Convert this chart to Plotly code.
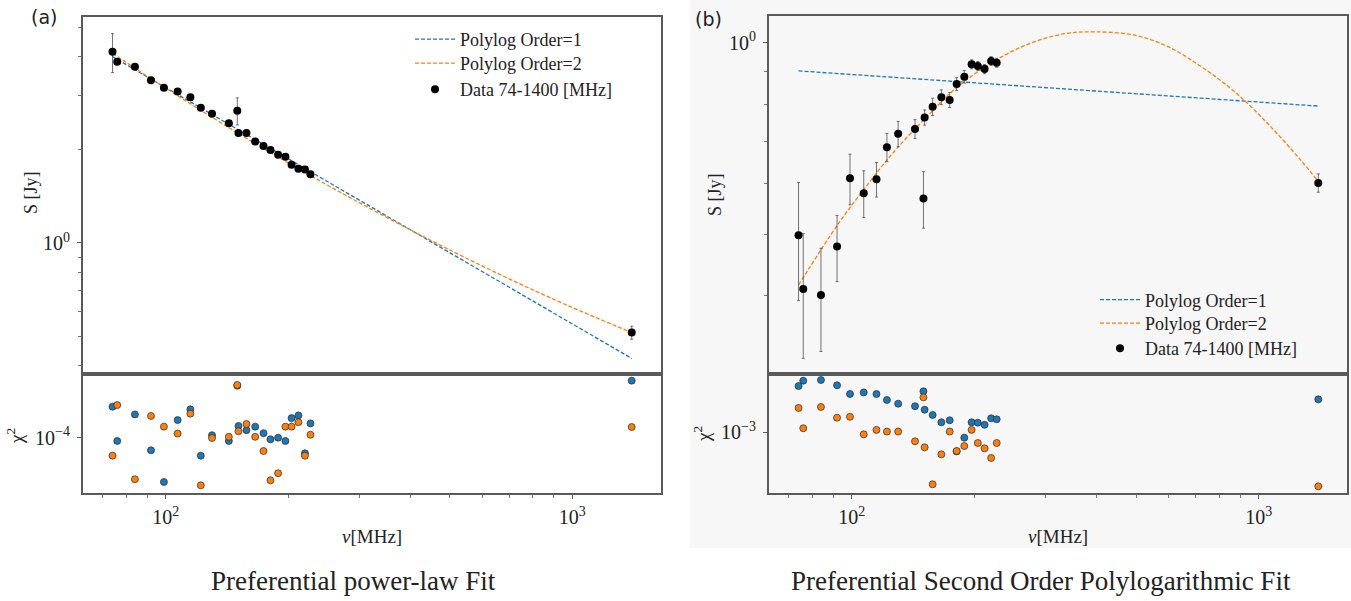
import plotly.graph_objects as go

# Observing frequencies [MHz]
freq = [74, 76, 84, 92, 99, 107, 115, 122, 130, 143, 150, 151, 158, 166, 174,
        181, 189, 197, 204, 212, 220, 227, 1400]

# Panel (a): power-law source
flux_a = [4.16, 3.86, 3.72, 3.36, 3.18, 3.09, 2.96, 2.74, 2.62, 2.44, 2.68, 2.27,
          2.27, 2.13, 2.06, 2.00, 1.93, 1.90, 1.79, 1.74, 1.73, 1.67, 0.513]
err_a = [0.60, 0.05, 0.05, 0.05, 0.05, 0.04, 0.04, 0.04, 0.04, 0.04, 0.27, 0.03,
         0.03, 0.03, 0.03, 0.03, 0.03, 0.03, 0.03, 0.03, 0.03, 0.03, 0.025]
chi1_a = [2.04e-4, 9.27e-5, 1.71e-4, 7.48e-5, 3.61e-5, 1.50e-4, 1.92e-4, 6.61e-5,
          1.06e-4, 9.27e-5, 3.31e-4, 1.31e-4, 1.19e-4, 1.29e-4, 1.11e-4, 9.64e-5,
          1.00e-4, 9.27e-5, 1.57e-4, 1.67e-4, 6.98e-5, 1.39e-4, 3.72e-4]
chi2_a = [6.61e-5, 2.12e-4, 3.84e-5, 1.65e-4, 1.29e-4, 1.10e-4, 1.74e-4, 3.34e-5,
          9.93e-5, 1.02e-4, 3.37e-4, 1.16e-4, 1.37e-4, 1.02e-4, 7.36e-5, 3.75e-5,
          4.41e-5, 1.29e-4, 1.29e-4, 1.43e-4, 6.61e-5, 1.07e-4, 1.28e-4]
fit1_a_freq = [74, 1400]
fit1_a = [4.01, 0.423]
fit2_a_freq = [74, 100, 150, 227, 400, 665, 970, 1400]
fit2_a = [4.11, 3.17, 2.275, 1.652, 1.102, 0.790, 0.629, 0.513]

# Panel (b): peaked-spectrum source
flux_b = [0.498, 0.410, 0.401, 0.478, 0.612, 0.580, 0.610, 0.685, 0.719, 0.732,
          0.569, 0.763, 0.793, 0.821, 0.813, 0.861, 0.884, 0.925, 0.919, 0.909,
          0.936, 0.930, 0.602]
err_b = [0.105, 0.091, 0.074, 0.057, 0.056, 0.049, 0.038, 0.035, 0.033, 0.025,
         0.058, 0.021, 0.025, 0.022, 0.022, 0.02, 0.02, 0.015, 0.015, 0.015,
         0.015, 0.015, 0.02]
chi1_b = [2.88e-3, 3.26e-3, 3.31e-3, 2.93e-3, 2.40e-3, 2.49e-3, 2.40e-3, 2.09e-3,
          1.92e-3, 1.81e-3, 2.55e-3, 1.67e-3, 1.48e-3, 1.25e-3, 1.31e-3, 6.40e-4,
          8.77e-4, 1.25e-3, 1.24e-3, 1.18e-3, 1.37e-3, 1.34e-3, 2.12e-3]
chi2_b = [1.74e-3, 1.09e-3, 1.78e-3, 1.39e-3, 1.42e-3, 9.48e-4, 1.05e-3, 1.01e-3,
          1.01e-3, 8.07e-4, 2.22e-3, 7.03e-4, 3.00e-4, 5.98e-4, 1.01e-3, 6.46e-4,
          7.24e-4, 1.05e-3, 7.76e-4, 6.87e-4, 5.50e-4, 7.76e-4, 2.86e-4]
fit1_b_freq = [74, 1400]
fit1_b = [0.903, 0.795]
fit2_b_freq = [74, 93, 108, 126, 152, 183, 234, 282, 340, 399, 495, 598, 722,
               871, 1050, 1267, 1400]
fit2_b = [0.416, 0.521, 0.592, 0.670, 0.762, 0.855, 0.951, 1.004, 1.035, 1.040,
          1.028, 0.986, 0.917, 0.838, 0.747, 0.654, 0.605]

# Tick labels
x_major = [100, 1000]
x_major_text = ["10<sup>2</sup>", "10<sup>3</sup>"]
x_minor = [70, 80, 90, 200, 300, 400, 500, 600, 700, 800, 900]

W, H = 1351, 601
BLUE, ORANGE = "#1f77b4", "#ff7f0e"
SERIF = "Liberation Serif"
SANS = "DejaVu Sans"
FRAME = "#5a5a5a"
INK = "#222222"


def fx(px):
    return px / W


def fy(py):
    return 1 - py / H


fig = go.Figure()


def add_panel(n_up, n_lo, flux, err, chi1, chi2, f1x, f1, f2x, f2, legends):
    xu, yu = f"x{n_up}", f"y{n_up}"
    xl, yl = f"x{n_lo}", f"y{n_lo}"
    dash = "4px,2px"
    fig.add_trace(go.Scatter(x=f1x, y=f1, mode="lines", name="Polylog Order=1",
                             line=dict(color=BLUE, width=1.3, dash=dash),
                             xaxis=xu, yaxis=yu, legend=legends[0]))
    fig.add_trace(go.Scatter(x=f2x, y=f2, mode="lines", name="Polylog Order=2",
                             line=dict(color=ORANGE, width=1.3, dash=dash, shape="spline"),
                             xaxis=xu, yaxis=yu, legend=legends[1]))
    fig.add_trace(go.Scatter(x=freq, y=flux, mode="markers", name="Data 74-1400 [MHz]",
                             marker=dict(color="black", size=8),
                             error_y=dict(type="data", array=err, color="rgba(70,70,70,0.75)",
                                          thickness=1, width=1.5),
                             xaxis=xu, yaxis=yu, legend=legends[2]))
    for vals, col in ((chi1, BLUE), (chi2, ORANGE)):
        fig.add_trace(go.Scatter(x=freq, y=vals, mode="markers", showlegend=False,
                                 marker=dict(color=col, size=7,
                                             line=dict(color="#2a2a2a", width=0.7)),
                                 xaxis=xl, yaxis=yl))


add_panel(1, 2, flux_a, err_a, chi1_a, chi2_a, fit1_a_freq, fit1_a, fit2_a_freq, fit2_a,
          ["legend", "legend2", "legend3"])
add_panel(3, 4, flux_b, err_b, chi1_b, chi2_b, fit1_b_freq, fit1_b, fit2_b_freq, fit2_b,
          ["legend4", "legend5", "legend6"])

tickfont = dict(family=SERIF, size=20, color=INK)
frame = dict(showline=True, mirror=True, linecolor=FRAME, linewidth=1.5,
             showgrid=False, zeroline=False)

x_range = [1.7959, 3.2174]
dom_a = [fx(82.7), fx(660.7)]
dom_b = [fx(768.7), fx(1347.3)]
up_dom_a = [fy(374), fy(17)]
up_dom_b = [fy(374), fy(16)]
lo_dom = [fy(493.3), fy(374)]


def x_lower(dom, anchor):
    return dict(type="log", range=x_range, domain=dom, anchor=anchor,
                tickmode="array", tickvals=x_major, ticktext=x_major_text,
                ticks="outside", ticklen=4, tickwidth=1, tickcolor=FRAME,
                tickfont=tickfont, ticklabelstandoff=1,
                minor=dict(tickmode="array", tickvals=x_minor, ticks="outside",
                           ticklen=2.5, tickwidth=0.8, tickcolor="#777"),
                **frame)


def x_upper(dom, anchor, match):
    return dict(type="log", range=x_range, domain=dom, anchor=anchor, matches=match,
                showticklabels=False, ticks="", **frame)


def y_axis(dom, anchor, rng, tv, tt, minor_vals):
    d = dict(type="log", range=rng, domain=dom, anchor=anchor,
             tickmode="array", tickvals=tv, ticktext=tt,
             ticks="outside", ticklen=4, tickwidth=1, tickcolor=FRAME,
             tickfont=tickfont, ticklabelstandoff=3, **frame)
    if minor_vals:
        d["minor"] = dict(tickmode="array", tickvals=minor_vals, ticks="outside",
                          ticklen=2.5, tickwidth=0.8, tickcolor="#777")
    return d


legend_font = dict(family=SERIF, size=18, color=INK)


def legend_box(x_px, y_px):
    return dict(x=fx(x_px), y=fy(y_px), xanchor="left", yanchor="middle",
                bgcolor="rgba(0,0,0,0)", font=legend_font, itemwidth=40)


fig.update_layout(
    width=W, height=H, margin=dict(l=0, r=0, t=0, b=0),
    paper_bgcolor="white", plot_bgcolor="rgba(0,0,0,0)",
    font=dict(family=SERIF, size=16, color=INK),
    xaxis=x_upper(dom_a, "y", "x2"),
    xaxis2=x_lower(dom_a, "y2"),
    xaxis3=x_upper(dom_b, "y3", "x4"),
    xaxis4=x_lower(dom_b, "y4"),
    yaxis=y_axis(up_dom_a, "x", [-0.424, 0.7314], [1], ["10<sup>0</sup>"],
                 [0.4, 0.5, 0.6, 0.7, 0.8, 0.9, 2, 3, 4, 5]),
    yaxis2=y_axis(lo_dom, "x2", [-4.556, -3.363], [1e-4], ["10<sup>\u22124</sup>"], None),
    yaxis3=y_axis(up_dom_b, "x3", [-0.5209, 0.042], [1], ["10<sup>0</sup>"],
                  [0.4, 0.5, 0.6, 0.7, 0.8, 0.9]),
    yaxis4=y_axis(lo_dom, "x4", [-3.613, -2.42], [1e-3], ["10<sup>\u22123</sup>"], None),
    legend=legend_box(410, 39.5),
    legend2=legend_box(410, 63.5),
    legend3=legend_box(410, 89.5),
    legend4=legend_box(1095, 300),
    legend5=legend_box(1095, 323.5),
    legend6=legend_box(1095, 348.5),
    showlegend=True,
)

# Light backdrop behind panel (b)
fig.add_shape(type="rect", xref="paper", yref="paper", x0=fx(690), x1=1,
              y0=fy(548), y1=1, fillcolor="#f7f7f7", line=dict(width=0), layer="below")

ann = []


def label(text, x, y, size, family=SERIF, angle=0):
    ann.append(dict(text=text, x=fx(x), y=fy(y), xref="paper", yref="paper",
                    showarrow=False, textangle=angle, xanchor="center", yanchor="middle",
                    font=dict(family=family, size=size, color=INK)))


label("(a)", 44, 17, 19, SANS)
label("(b)", 708, 19, 19, SANS)
label("S [Jy]", 31, 193, 18, angle=-90)
label("S [Jy]", 715, 195, 18, angle=-90)
label("\u03c7<sup>2</sup>", 15, 436, 19, angle=-90)
label("\u03c7<sup>2</sup>", 702, 434, 19, angle=-90)
label("<i>\u03bd</i>[MHz]", 371.7, 536, 19)
label("<i>\u03bd</i>[MHz]", 1058, 536, 19)
label("Preferential power-law Fit", 353, 581, 27)
label("Preferential Second Order Polylogarithmic Fit", 1041, 581, 27)
fig.update_layout(annotations=ann)

fig.write_html("out.html")
